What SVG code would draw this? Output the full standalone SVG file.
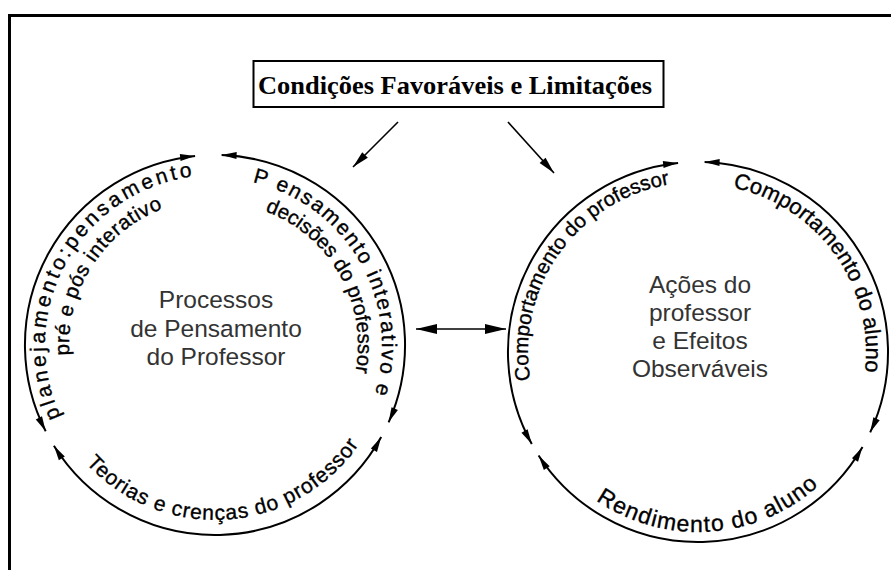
<svg xmlns="http://www.w3.org/2000/svg" xmlns:xlink="http://www.w3.org/1999/xlink" width="891" height="570" viewBox="0 0 891 570">
<style>
.frame{fill:none;stroke:#000;stroke-width:3}
.box{fill:#fff;stroke:#000;stroke-width:2}
.title{font-family:"Liberation Serif","Times New Roman",serif;font-weight:bold;font-size:26px;fill:#000}
.center{font-family:"Liberation Sans",Arial,sans-serif;font-size:24.5px;fill:#333;text-anchor:middle}
.arc{fill:none;stroke:#000;stroke-width:2;marker-start:url(#ah);marker-end:url(#ah)}
.arr{fill:none;stroke:#000;stroke-width:1.6}
.lbl{font-family:"Liberation Sans",Arial,sans-serif;fill:#000;stroke:#000;stroke-width:0.35}
</style>
<defs>
<marker id="ah" markerUnits="userSpaceOnUse" markerWidth="16" markerHeight="8" refX="15" refY="3.5" orient="auto-start-reverse" overflow="visible">
<path d="M0,0 L15,3.5 L0,7 z" fill="#000"/>
</marker>
<marker id="ad" markerUnits="userSpaceOnUse" markerWidth="18" markerHeight="9" refX="17" refY="4" orient="auto" overflow="visible">
<path d="M0,0 L17,4 L0,8 z" fill="#000"/>
</marker>
<marker id="ab" markerUnits="userSpaceOnUse" markerWidth="22" markerHeight="11" refX="21" refY="5" orient="auto-start-reverse" overflow="visible">
<path d="M0,0 L21,5 L0,10 z" fill="#000"/>
</marker>
<path id="pL1" d="M60.9,416.8 A170,170 0 0 1 244.5,177.6"/>
<path id="pL2" d="M69.4,355.2 A146,146 0 0 1 215,199"/>
<path id="pR1" d="M252.6,182.3 A167,167 0 0 1 359.6,428.5"/>
<path id="pR2" d="M265.1,211.1 A143,143 0 0 1 344.6,405.4"/>
<path id="pB" d="M86.0,463.2 A175,175 0 0 0 373.6,419.0"/>
<path id="qL" d="M530.3,380.1 A170,170 0 0 1 712.8,182.6"/>
<path id="qR" d="M732.9,187.7 A168,168 0 0 1 850.3,423.0"/>
<path id="qB" d="M596.0,500.3 A180,180 0 0 0 835.9,467.7"/>
</defs>
<rect width="891" height="570" fill="#fff"/>
<path class="frame" d="M9.5,575 V15.5 H895"/>

<g id="condicoes">
<rect class="box" x="253.5" y="61" width="410" height="46"/>
<text class="title" x="258" y="94" textLength="394" lengthAdjust="spacingAndGlyphs">Condições Favoráveis e Limitações</text>
</g>

<g id="processos">
<text class="center" x="216" y="308">Processos</text>
<text class="center" x="216" y="337">de Pensamento</text>
<text class="center" x="216" y="365">do Professor</text>
</g>

<g id="acoes">
<text class="center" x="700" y="293">Ações do</text>
<text class="center" x="700" y="321">professor</text>
<text class="center" x="700" y="349">e Efeitos</text>
<text class="center" x="700" y="377">Observáveis</text>
</g>

<g id="connectors">
<path class="arr" d="M398,122 L353,167" marker-end="url(#ad)"/>
<path class="arr" d="M508,122 L554,173" marker-end="url(#ad)"/>
<path class="arr" d="M416,329 L506,329" marker-start="url(#ab)" marker-end="url(#ab)"/>
<path class="arc" d="M45.7,431.3 A190,190 0 0 1 195.1,156.0"/>
<path class="arc" d="M221.6,155.1 A190,190 0 0 1 388.6,422.3"/>
<path class="arc" d="M53.9,445.7 A190,190 0 0 0 381.2,437.1"/>
<path class="arc" d="M531.8,444.1 A190,190 0 0 1 678.1,163.0"/>
<path class="arc" d="M704.6,162.1 A190,190 0 0 1 870.2,432.3"/>
<path class="arc" d="M538.6,455.5 A190,190 0 0 0 862.5,447"/>
</g>

<g id="arc-labels">
<text class="lbl" font-size="21" letter-spacing="3.2"><textPath xlink:href="#pL1" href="#pL1">planejamento:pensamento</textPath></text>
<text class="lbl" font-size="20.5" letter-spacing="0.6"><textPath xlink:href="#pL2" href="#pL2">pré e pós interativo</textPath></text>
<text class="lbl" font-size="21" letter-spacing="1.8"><textPath xlink:href="#pR1" href="#pR1">P ensamento interativo e</textPath></text>
<text class="lbl" font-size="20.5"><textPath xlink:href="#pR2" href="#pR2">decisões do professor</textPath></text>
<text class="lbl" font-size="21" letter-spacing="0.9"><textPath xlink:href="#pB" href="#pB">Teorias e crenças do professor</textPath></text>
<text class="lbl" font-size="20.5"><textPath xlink:href="#qL" href="#qL">Comportamento do professor</textPath></text>
<text class="lbl" font-size="22"><textPath xlink:href="#qR" href="#qR">Comportamento do aluno</textPath></text>
<text class="lbl" font-size="23" letter-spacing="1.2"><textPath xlink:href="#qB" href="#qB">Rendimento do aluno</textPath></text>
</g>
</svg>
